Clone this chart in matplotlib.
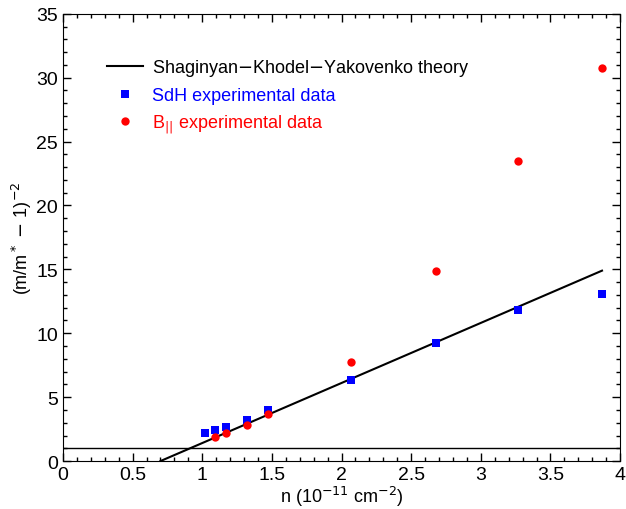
import matplotlib
matplotlib.use("Agg")
import matplotlib.pyplot as plt
from matplotlib.ticker import MultipleLocator, FuncFormatter

# theory line end points
theory_n = [0.70, 3.87]
theory_y = [0.0, 14.9]

# SdH experimental data
sdh_n = [1.02, 1.09, 1.17, 1.32, 1.47, 2.07, 2.68, 3.27, 3.87]
sdh_y = [2.2, 2.45, 2.65, 3.2, 4.0, 6.35, 9.2, 11.85, 13.1]

# B|| experimental data
bpar_n = [1.09, 1.17, 1.32, 1.47, 2.07, 2.68, 3.27, 3.87]
bpar_y = [1.9, 2.2, 2.85, 3.65, 7.75, 14.85, 23.5, 30.75]

plt.rcParams['font.family'] = ['Liberation Sans', 'DejaVu Sans']

fig = plt.figure(figsize=[6.26, 5.10], dpi=100)
ax = fig.add_axes([0.1006, 0.094, 0.890, 0.877])

ax.axhline(1.0, color='black', lw=1.0)
ax.plot(theory_n, theory_y, color='black', lw=1.5,
        label='Shaginyan$-$Khodel$-$Yakovenko theory')
ax.plot(sdh_n, sdh_y, 's', color='blue', ms=5.5, markeredgewidth=0,
        label='SdH experimental data')
ax.plot(bpar_n, bpar_y, 'o', color='red', ms=6, markeredgewidth=0,
        label=r'B$_{||}$ experimental data')

ax.set_xlim((0, 4))
ax.set_ylim((0, 35))
ax.xaxis.set_major_locator(MultipleLocator(0.5))
ax.xaxis.set_minor_locator(MultipleLocator(0.1))
ax.yaxis.set_major_locator(MultipleLocator(5))
ax.yaxis.set_minor_locator(MultipleLocator(1))
ax.xaxis.set_major_formatter(FuncFormatter(lambda v, p: '%g' % v))

ax.tick_params(which='both', direction='in', top=True, right=True,
               labelsize=14)
ax.tick_params(which='major', length=6, width=1)
ax.tick_params(which='minor', length=3, width=1)

ax.set_xlabel(r"n (10$^{-11}$ cm$^{-2}$)", fontsize=13, labelpad=1)
ax.set_ylabel(r"(m/m$^*$ $-$ 1)$^{-2}$", fontsize=13, labelpad=2)

leg = ax.legend(loc='upper left', bbox_to_anchor=(0.05, 0.94), frameon=False,
                fontsize=13, handlelength=2.0, handletextpad=0.5,
                labelspacing=0.5)
for txt, col in zip(leg.get_texts(), ['black', 'blue', 'red']):
    txt.set_color(col)

fig.savefig('out.png', dpi=100)
